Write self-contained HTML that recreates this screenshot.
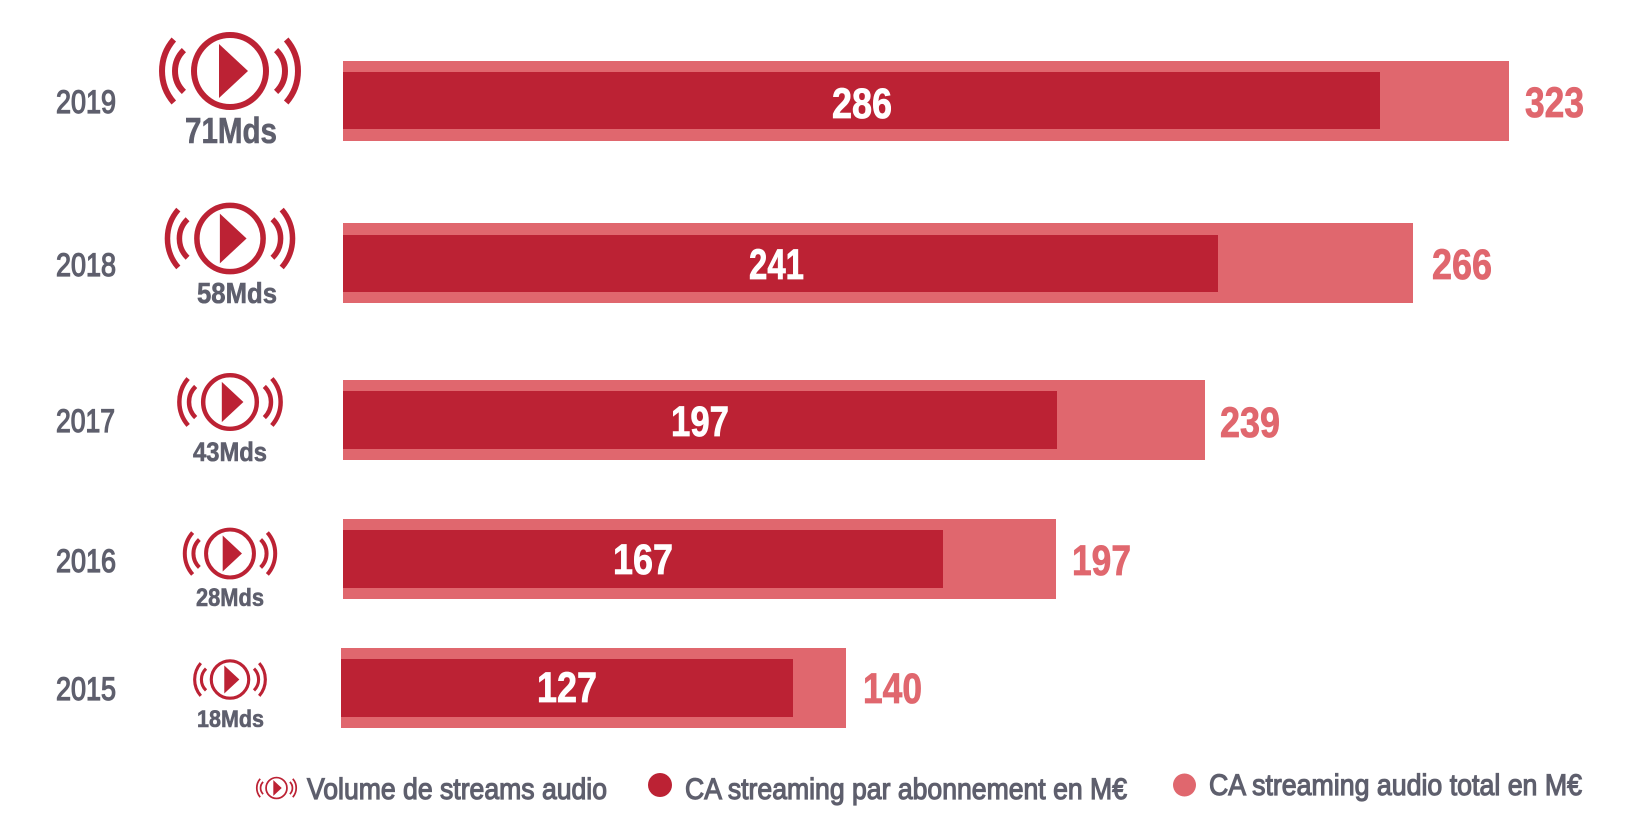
<!DOCTYPE html>
<html>
<head>
<meta charset="utf-8">
<style>
  html,body{margin:0;padding:0;background:#ffffff;}
  svg{display:block;}
  text{font-family:"Liberation Sans", Arial, sans-serif;}
  .yr{font-size:32px;fill:#5e5f6d;stroke:#5e5f6d;stroke-width:1.3px;}
  .mds{font-weight:bold;fill:#5e5f6d;stroke:#5e5f6d;stroke-width:0.6px;}
  .wn{font-size:43px;font-weight:bold;fill:#ffffff;stroke:#ffffff;stroke-width:0.8px;}
  .pn{font-size:43px;font-weight:bold;fill:#e0676e;stroke:#e0676e;stroke-width:0.8px;}
  .lg{font-size:30px;fill:#5e5f6d;stroke:#5e5f6d;stroke-width:1.2px;}
  .ic path,.ic circle{fill:none;stroke:#bc2234;stroke-width:6;}
  .ic polygon{fill:#bc2234;stroke:none;}
</style>
</head>
<body>
<svg width="1640" height="830" viewBox="0 0 1640 830" xmlns="http://www.w3.org/2000/svg">
  <defs>
    <g id="icon" class="ic">
      <circle cx="0" cy="0" r="36"/>
      <polygon points="-11,-27 18,0 -11,27"/>
      <path d="M -46.1 -20.9 A 29 29 0 0 0 -46.1 20.9"/>
      <path d="M -56.2 -31.5 A 48 48 0 0 0 -56.2 31.5"/>
      <path d="M 46.1 -20.9 A 29 29 0 0 1 46.1 20.9"/>
      <path d="M 56.2 -31.5 A 48 48 0 0 1 56.2 31.5"/>
    </g>
  </defs>

  <!-- Bars -->
  <rect x="343" y="61" width="1166" height="80" fill="#e0676e"/>
  <rect x="343" y="72" width="1037" height="57" fill="#bc2234"/>

  <rect x="343" y="223" width="1070" height="80" fill="#e0676e"/>
  <rect x="343" y="235" width="875" height="57" fill="#bc2234"/>

  <rect x="343" y="380" width="862" height="80" fill="#e0676e"/>
  <rect x="343" y="391" width="714" height="58" fill="#bc2234"/>

  <rect x="343" y="519" width="713" height="80" fill="#e0676e"/>
  <rect x="343" y="530" width="600" height="58" fill="#bc2234"/>

  <rect x="341" y="648" width="505" height="80" fill="#e0676e"/>
  <rect x="341" y="659" width="452" height="58" fill="#bc2234"/>

  <!-- Year labels -->
  <text class="yr" x="56" y="113" textLength="60" lengthAdjust="spacingAndGlyphs">2019</text>
  <text class="yr" x="56" y="276" textLength="60" lengthAdjust="spacingAndGlyphs">2018</text>
  <text class="yr" x="56" y="432" textLength="59" lengthAdjust="spacingAndGlyphs">2017</text>
  <text class="yr" x="56" y="572" textLength="60" lengthAdjust="spacingAndGlyphs">2016</text>
  <text class="yr" x="56" y="700" textLength="60" lengthAdjust="spacingAndGlyphs">2015</text>

  <!-- Icons -->
  <use href="#icon" transform="translate(230,71) scale(1)"/>
  <use href="#icon" transform="translate(230,238.5) scale(0.92)"/>
  <use href="#icon" transform="translate(230,402) scale(0.745)"/>
  <use href="#icon" transform="translate(230,553.5) scale(0.665)"/>
  <use href="#icon" transform="translate(230,679.5) scale(0.52)"/>

  <!-- Mds labels -->
  <text class="mds" x="185" y="143" font-size="36" textLength="92" lengthAdjust="spacingAndGlyphs">71Mds</text>
  <text class="mds" x="197" y="303" font-size="29" textLength="80" lengthAdjust="spacingAndGlyphs">58Mds</text>
  <text class="mds" x="193" y="461" font-size="27" textLength="74" lengthAdjust="spacingAndGlyphs">43Mds</text>
  <text class="mds" x="196" y="606" font-size="25" textLength="68" lengthAdjust="spacingAndGlyphs">28Mds</text>
  <text class="mds" x="197" y="727" font-size="24" textLength="67" lengthAdjust="spacingAndGlyphs">18Mds</text>

  <!-- White values -->
  <text class="wn" x="832" y="118" textLength="60" lengthAdjust="spacingAndGlyphs">286</text>
  <text class="wn" x="749" y="279" textLength="55" lengthAdjust="spacingAndGlyphs">241</text>
  <text class="wn" x="671" y="436" textLength="58" lengthAdjust="spacingAndGlyphs">197</text>
  <text class="wn" x="613" y="574" textLength="60" lengthAdjust="spacingAndGlyphs">167</text>
  <text class="wn" x="537" y="702" textLength="60" lengthAdjust="spacingAndGlyphs">127</text>

  <!-- Pink totals -->
  <text class="pn" x="1525" y="117" textLength="59" lengthAdjust="spacingAndGlyphs">323</text>
  <text class="pn" x="1432" y="279" textLength="60" lengthAdjust="spacingAndGlyphs">266</text>
  <text class="pn" x="1220" y="437" textLength="60" lengthAdjust="spacingAndGlyphs">239</text>
  <text class="pn" x="1072" y="575" textLength="59" lengthAdjust="spacingAndGlyphs">197</text>
  <text class="pn" x="863" y="703" textLength="59" lengthAdjust="spacingAndGlyphs">140</text>

  <!-- Legend -->
  <use href="#icon" transform="translate(276.5,788) scale(0.29)"/>
  <text class="lg" x="307" y="799" textLength="300" lengthAdjust="spacingAndGlyphs">Volume de streams audio</text>

  <circle cx="660" cy="785" r="12" fill="#bc2234"/>
  <text class="lg" x="685" y="799" textLength="442" lengthAdjust="spacingAndGlyphs">CA streaming par abonnement en M€</text>

  <circle cx="1184.5" cy="785" r="11.5" fill="#e0676e"/>
  <text class="lg" x="1209" y="795" textLength="373" lengthAdjust="spacingAndGlyphs">CA streaming audio total en M€</text>
</svg>
</body>
</html>
